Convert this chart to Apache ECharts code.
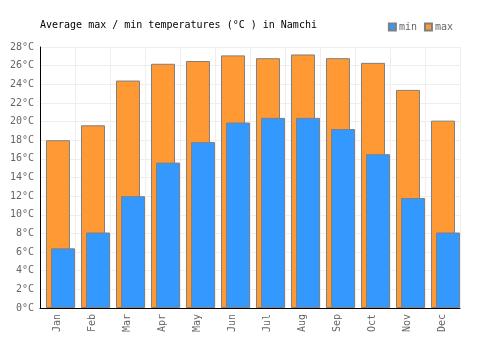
<!DOCTYPE html>
<html>
<head>
<meta charset="utf-8">
<script src="https://cdn.jsdelivr.net/npm/echarts@6/dist/echarts.min.js"></script>
<style>
    html, body {margin: 0; padding: 0; background: #fff;}
    #chart {width: 500px; height: 350px;}
</style>
</head>
<body>
<div id="chart"></div>
<script>
// Namchi monthly averages
const months = ['Jan', 'Feb', 'Mar', 'Apr', 'May', 'Jun', 'Jul', 'Aug', 'Sep', 'Oct', 'Nov', 'Dec'];
const maxTemps = [18.0, 19.6, 24.4, 26.2, 26.5, 27.1, 26.8, 27.2, 26.8, 26.3, 23.4, 20.1];
const minTemps = [6.4, 8.1, 12.0, 15.6, 17.8, 19.9, 20.4, 20.4, 19.2, 16.5, 11.8, 8.1];

const font = 'DejaVu Sans Mono';
const chart = echarts.init(document.getElementById('chart'));

chart.setOption({
    animation: false,
    textStyle: {fontFamily: font},
    title: {
        text: 'Average max / min temperatures (°C ) in Namchi',
        left: 35,
        top: 15,
        textStyle: {fontFamily: font, fontSize: 10, fontWeight: 'normal', color: '#000'}
    },
    legend: {
        data: ['min', 'max'],
        right: 42,
        top: 17,
        itemWidth: 7,
        itemHeight: 7,
        itemGap: 7,
        icon: 'rect',
        textStyle: {fontFamily: font, fontSize: 10, color: '#666', padding: [0, 0, 0, -2]}
    },
    grid: [
        {left: 40, right: 40, top: 47, bottom: 42},
        // bars sit a bit right of the category centre
        {left: 43, right: 37, top: 47, bottom: 42}
    ],
    xAxis: [
        {
            type: 'category',
            gridIndex: 0,
            data: months,
            axisLine: {lineStyle: {color: '#000', width: 1}},
            axisTick: {show: false},
            axisLabel: {rotate: 90, fontFamily: font, fontSize: 10, color: '#666', margin: 6},
            splitLine: {show: true, lineStyle: {color: '#eeeeee'}}
        },
        {
            type: 'category',
            gridIndex: 1,
            data: months,
            show: false
        }
    ],
    yAxis: [
        {
            type: 'value',
            gridIndex: 0,
            min: 0,
            max: 28,
            interval: 2,
            axisLine: {show: true, lineStyle: {color: '#000', width: 1}},
            axisTick: {show: false},
            axisLabel: {formatter: '{value}°C', fontFamily: font, fontSize: 10, color: '#666', margin: 6},
            splitLine: {show: true, lineStyle: {color: '#eeeeee'}}
        },
        {
            type: 'value',
            gridIndex: 1,
            min: 0,
            max: 28,
            show: false
        }
    ],
    series: [
        {
            name: 'max',
            type: 'bar',
            xAxisIndex: 1,
            yAxisIndex: 1,
            data: maxTemps,
            barWidth: 24,
            barGap: '-79%',
            itemStyle: {color: '#ff9933', borderColor: '#808080', borderWidth: 1}
        },
        {
            name: 'min',
            type: 'bar',
            xAxisIndex: 1,
            yAxisIndex: 1,
            data: minTemps,
            barWidth: 24,
            itemStyle: {color: '#3399ff', borderColor: '#808080', borderWidth: 1}
        }
    ]
});
</script>
</body>
</html>
